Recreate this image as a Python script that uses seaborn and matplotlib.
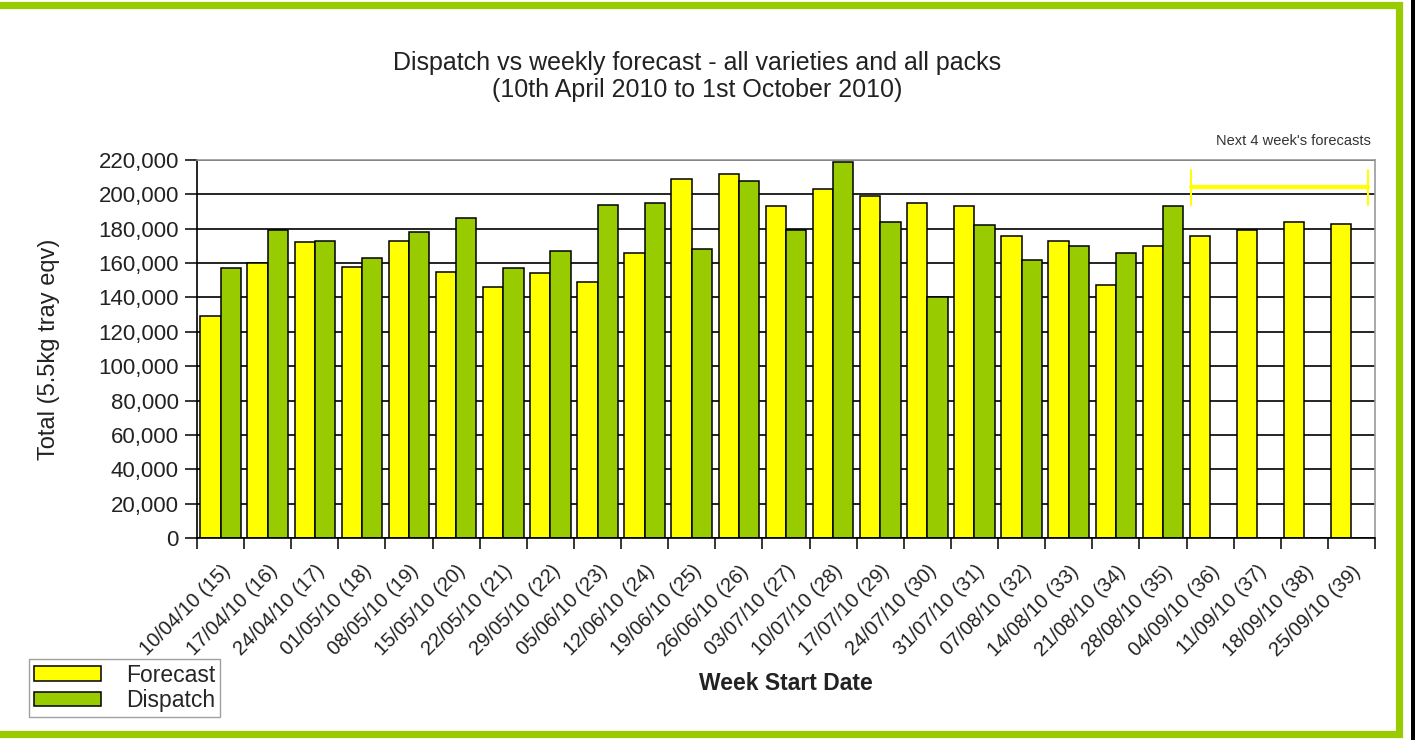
import numpy as np
import pandas as pd
import matplotlib
matplotlib.use('Agg')
import matplotlib.pyplot as plt
from matplotlib.patches import Rectangle, Patch
from matplotlib.ticker import FuncFormatter, FixedLocator
import seaborn as sns

# ── DATA ────────────────────────────────────────────────────
weeks = ['10/04/10 (15)', '17/04/10 (16)', '24/04/10 (17)', '01/05/10 (18)',
         '08/05/10 (19)', '15/05/10 (20)', '22/05/10 (21)', '29/05/10 (22)',
         '05/06/10 (23)', '12/06/10 (24)', '19/06/10 (25)', '26/06/10 (26)',
         '03/07/10 (27)', '10/07/10 (28)', '17/07/10 (29)', '24/07/10 (30)',
         '31/07/10 (31)', '07/08/10 (32)', '14/08/10 (33)', '21/08/10 (34)',
         '28/08/10 (35)', '04/09/10 (36)', '11/09/10 (37)', '18/09/10 (38)',
         '25/09/10 (39)']
forecast = [129000, 160000, 172000, 158000, 173000, 155000, 146000, 154000,
            149000, 166000, 209000, 212000, 193000, 203000, 199000, 195000,
            193000, 176000, 173000, 147000, 170000, 176000, 179000, 184000,
            183000]
dispatch = [157000, 179000, 173000, 163000, 178000, 186000, 157000, 167000,
            194000, 195000, 168000, 208000, 179000, 219000, 184000, 140000,
            182000, 162000, 170000, 166000, 193000, np.nan, np.nan, np.nan,
            np.nan]
series = ['Forecast', 'Dispatch']
colors = {'Forecast': '#FFFF00', 'Dispatch': '#99CC00'}
n_future = 4

df = pd.DataFrame({
    'Week': weeks * 2,
    'Series': ['Forecast'] * len(weeks) + ['Dispatch'] * len(weeks),
    'Total': forecast + dispatch,
}).dropna()

# ── PLOT ────────────────────────────────────────────────────
sns.set_style('white')
plt.rcParams['font.family'] = ['Liberation Sans', 'DejaVu Sans']

W, H = 1415, 740
fig = plt.figure(figsize=(W / 100, H / 100), dpi=100)
ax = fig.add_axes([197 / W, (H - 538) / H, (1375 - 197) / W, (538 - 160) / H])

sns.barplot(data=df, x='Week', y='Total', hue='Series', order=weeks,
            hue_order=series, palette=colors, width=0.86, errorbar=None,
            edgecolor='black', linewidth=1.1, saturation=1, ax=ax, legend=False)

ax.set_xlim(-0.5, len(weeks) - 0.5)
ax.set_ylim(0, 220000)
ax.set_yticks(np.arange(0, 220001, 20000))
ax.yaxis.set_major_formatter(FuncFormatter(lambda v, p: f'{int(v):,}'))
ax.grid(axis='y', color='black', linewidth=1.2)
ax.set_axisbelow(True)

for s in ['left', 'bottom']:
    ax.spines[s].set_color('black')
    ax.spines[s].set_linewidth(1.2)
for s in ['top', 'right']:
    ax.spines[s].set_color('#999999')
    ax.spines[s].set_linewidth(1.2)

ax.tick_params(axis='y', which='major', direction='out', length=9, width=1.1,
               color='black', labelsize=16, labelcolor='#222222', pad=4, left=True)
ax.set_xticks(range(len(weeks)))
ax.set_xticklabels(weeks, rotation=45, ha='right', rotation_mode='anchor')
ax.tick_params(axis='x', which='major', length=0, labelsize=14.5,
               labelcolor='#222222', pad=17)
ax.xaxis.set_minor_locator(FixedLocator(np.arange(-0.5, len(weeks), 1)))
ax.tick_params(axis='x', which='minor', direction='out', length=8, width=1.1,
               color='black', bottom=True)

ax.set_xlabel('Week Start Date', fontsize=16.5, fontweight='bold', color='#222222')
ax.set_ylabel('Total (5.5kg tray eqv)', fontsize=17, color='#222222')
ax.xaxis.set_label_coords(0.5, (538 - 672) / 378)
ax.yaxis.set_label_coords((60 - 197) / 1178, 0.5)

fig.text(697 / W, 1 - 63 / H,
         'Dispatch vs weekly forecast - all varieties and all packs',
         ha='center', va='center', fontsize=18, color='#222222')
fig.text(697 / W, 1 - 90 / H, '(10th April 2010 to 1st October 2010)',
         ha='center', va='center', fontsize=18, color='#222222')

# bracket over the forecast-only weeks
x0 = len(weeks) - n_future - 0.4
x1 = len(weeks) - 0.65
ax.plot([x0, x1], [204500, 204500], color='#FFFF00', lw=3, clip_on=False)
for xx in (x0, x1):
    ax.plot([xx, xx], [194000, 214000], color='#FFFF00', lw=1.5, clip_on=False)
ax.text(0.9965, 1.033, "Next 4 week's forecasts", transform=ax.transAxes,
        ha='right', va='bottom', fontsize=10.5, color='#333333')

handles = [Patch(facecolor=colors[s], edgecolor='black', linewidth=1.1, label=s)
           for s in series]
fig.legend(handles=handles, loc='lower left', bbox_to_anchor=(29 / W, 1 - 717 / H),
           frameon=True, fancybox=False, edgecolor='#888888', fontsize=16.5,
           handlelength=2.9, handleheight=0.6, handletextpad=1.1,
           borderpad=0.22, labelspacing=0.1, borderaxespad=0)

# green outer frame
fig.add_artist(Rectangle((-1.5 / W, 1 - 733.5 / H), 1400 / W, 728.5 / H,
                         transform=fig.transFigure, fill=False,
                         edgecolor='#99CC00', linewidth=5.2))
fig.add_artist(Rectangle((1411 / W, 0), 4 / W, 1, transform=fig.transFigure,
                         facecolor='black', edgecolor='none'))

plt.savefig('out.png', dpi=100)
